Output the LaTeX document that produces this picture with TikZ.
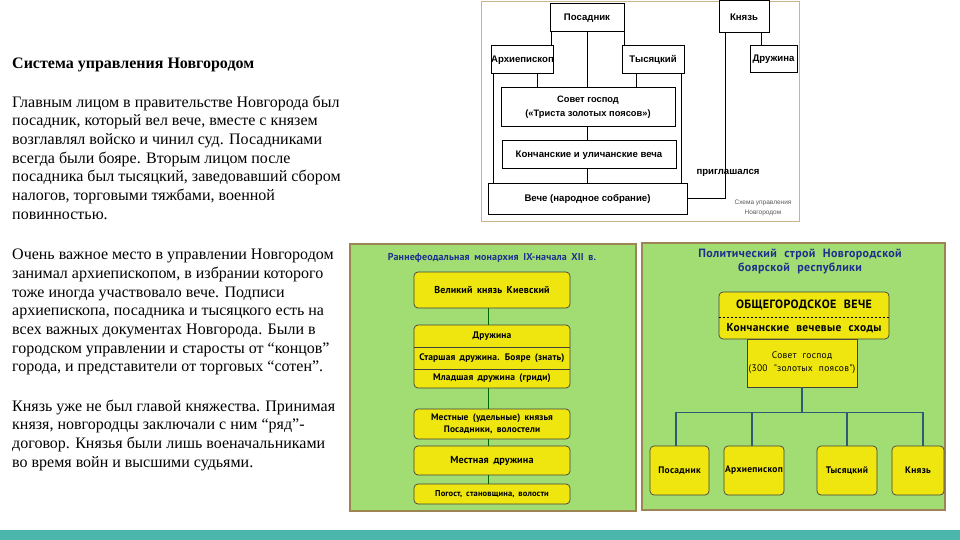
\documentclass[tikz,border=0pt]{standalone}
\usepackage{fontspec}
\setmainfont{Liberation Serif}
\newfontfamily\arialf{Liberation Sans}
\newfontfamily\ptsf[WordSpace=2.2, LetterSpace=3]{PT Sans}
\newfontfamily\ptsl[WordSpace=1.7, LetterSpace=1.5]{PT Sans}
\usetikzlibrary{calc}
\definecolor{panelgreen}{HTML}{A2DD74}
\definecolor{panelborder}{HTML}{9C8552}
\definecolor{boxyellow}{HTML}{EEE60E}
\definecolor{titleblue}{HTML}{1E308C}
\definecolor{treeline}{HTML}{2D5A74}
\definecolor{bandteal}{HTML}{4DB6AC}
\definecolor{frametan}{HTML}{C9B48E}
\tikzset{
  bodytext/.style={anchor=north west, inner sep=0pt, align=left, font=\fontsize{16}{18.7}\selectfont},
  tbox/.style={draw=black, line width=1pt, fill=white, inner sep=0pt, align=center,
               font=\arialf\bfseries\fontsize{9.6}{12}\selectfont},
  tline/.style={draw=black, line width=0.9pt},
  panel/.style={draw=panelborder, line width=1.6pt, fill=panelgreen},
  ybox/.style={draw=black!75, line width=0.7pt, fill=boxyellow, rounded corners=4pt, inner sep=0pt,
               align=center, font=\ptsf\bfseries\fontsize{9.5}{12}\selectfont},
  lbox/.style={ybox, font=\ptsl\bfseries\fontsize{9.5}{12}\selectfont},
  yrow/.style={inner sep=0pt, minimum width=156pt, align=center, font=\ptsl\bfseries\fontsize{9.5}{12}\selectfont},
  lline/.style={draw=black!60!green, line width=0.7pt},
  rline/.style={draw=treeline, line width=1.4pt},
  ptitle/.style={text=titleblue, align=center, inner sep=0pt},
}
\begin{document}
\begin{tikzpicture}[x=1pt,y=-1pt]
\useasboundingbox (0,0) rectangle (960,540);
\fill[white] (0,0) rectangle (960,540);
\fill[bandteal] (0,530) rectangle (960,540);

% ---------- left text ----------
\node[anchor=north west, inner sep=0pt, font=\bfseries\fontsize{16}{19}\selectfont] (title) at (12,58) {Система управления Новгородом};
\node[bodytext] (p1) at (12,95.5) {Главным лицом в правительстве Новгорода был\\
посадник, который вел вече, вместе с князем\\
возглавлял войско и чинил суд. Посадниками\\
всегда были бояре. Вторым лицом после\\
посадника был тысяцкий, заведовавший сбором\\
налогов, торговыми тяжбами, военной\\
повинностью.};
\node[bodytext] (p2) at (12,249) {Очень важное место в управлении Новгородом\\
занимал архиепископом, в избрании которого\\
тоже иногда участвовало вече. Подписи\\
архиепископа, посадника и тысяцкого есть на\\
всех важных документах Новгорода. Были в\\
городском управлении и старосты от “концов”\\
города, и представители от торговых “сотен”.};
\node[bodytext] (p3) at (12,399.5) {Князь уже не был главой княжества. Принимая\\
князя, новгородцы заключали с ним “ряд”-\\
договор. Князья были лишь военачальниками\\
во время войн и высшими судьями.};

% ---------- top diagram ----------
\draw[frametan, line width=1pt, fill=white] (481,2) rectangle (799,221);
\node[tbox, minimum width=74pt, minimum height=28pt] (tpos) at (587,18) {Посадник};
\node[tbox, minimum width=50pt, minimum height=32pt] (tkn) at (744,17) {Князь};
\node[tbox, minimum width=61pt, minimum height=28pt] (tarch) at (522.5,60) {Архиепископ};
\node[tbox, minimum width=62pt, minimum height=28pt] (ttys) at (653,60) {Тысяцкий};
\node[tbox, minimum width=47pt, minimum height=27pt] (tdr) at (773.5,59.5) {Дружина};
\node[tbox, minimum width=174pt, minimum height=39pt, font=\arialf\bfseries\fontsize{9.3}{14}\selectfont] (tsov) at (588,107.5) {Совет господ\\(«Триста золотых поясов»)};
\node[tbox, minimum width=174pt, minimum height=28pt] (tkon) at (589,155) {Кончанские и уличанские веча};
\node[tbox, minimum width=199pt, minimum height=31pt] (tveche) at (587.5,198.5) {Вече (народное собрание)};
\node[inner sep=0pt, font=\arialf\bfseries\fontsize{9.6}{11}\selectfont] (tinv) at (728,173) {приглашался};
\node[inner sep=0pt, align=center, text=black!65, font=\arialf\fontsize{6.5}{10}\selectfont] (tcap) at (763,208) {Схема управления\\Новгородом};

\draw[tline] ([xshift=2pt]tpos.south west) -- ([xshift=2pt]tpos.south west |- tarch.north);
\draw[tline] (tpos.south east) -- (tpos.south east |- ttys.north);
\draw[tline] (tpos.south) -- (tpos.south |- tsov.north);
\draw[tline] (tsov.south -| tpos.south) -- (tkon.north -| tpos.south);
\draw[tline] (tkon.south -| tpos.south) -- (tveche.north -| tpos.south);
\draw[tline] ([xshift=14.5pt]tarch.south) -- ([xshift=14.5pt]tarch.south |- tsov.north);
\draw[tline] ([xshift=-17pt]ttys.south) -- ([xshift=-17pt]ttys.south |- tsov.north);
\draw[tline] ([xshift=3pt]tarch.south west) -- ([xshift=3pt]tarch.south west |- tveche.north);
\draw[tline] ([xshift=-3pt]ttys.south east) -- ([xshift=-3pt]ttys.south east |- tveche.north);
\draw[tline] ([xshift=7pt]tkn.south west) |- (tveche.east);
\draw[tline] ([xshift=17pt]tkn.south) -- ([xshift=17pt]tkn.south |- tdr.north);

% ---------- left green panel ----------
\draw[panel] (350,244) rectangle (636,511);
\node[ptitle, font=\ptsl\bfseries\fontsize{10}{12}\selectfont] (ltitle) at (492,258) {Раннефеодальная монархия IX-начала XII в.};
\node[lbox, minimum width=156pt, minimum height=36pt, font=\ptsl\bfseries\fontsize{10}{12}\selectfont] (lvk) at (492,290) {Великий князь Киевский};
\node[lbox, minimum width=156pt, minimum height=63pt] (ldr) at (492,356.5) {};
\node[yrow, minimum height=22pt] (lr1) at (492,336) {Дружина};
\node[yrow, minimum height=22pt] (lr2) at (492,358) {Старшая дружина. Бояре (знать)};
\node[yrow, minimum height=19pt] (lr3) at (492,378.5) {Младшая дружина (гриди)};
\draw[black!75, line width=0.7pt] (lr1.south west) -- (lr1.south east);
\draw[black!75, line width=0.7pt] (lr2.south west) -- (lr2.south east);
\node[lbox, minimum width=156pt, minimum height=30pt, font=\ptsl\bfseries\fontsize{9.4}{12.5}\selectfont] (lmest) at (492,424) {Местные (удельные) князья\\Посадники, волостели};
\node[lbox, minimum width=156pt, minimum height=29pt, font=\ptsl\bfseries\fontsize{10.2}{12}\selectfont] (lmd) at (492,460.5) {Местная дружина};
\node[lbox, minimum width=156pt, minimum height=20pt, font=\ptsl\bfseries\fontsize{8.5}{10}\selectfont] (lpog) at (492,494) {Погост, становщина, волости};
\draw[lline] ([xshift=-4pt]lvk.south) -- ([xshift=-4pt]ldr.north);
\draw[lline] ([xshift=-4pt]ldr.south) -- ([xshift=-4pt]lmest.north);
\draw[lline] ([xshift=-4pt]lmest.south) -- ([xshift=-4pt]lmd.north);
\draw[lline] ([xshift=-4pt]lmd.south) -- ([xshift=-4pt]lpog.north);

% ---------- right green panel ----------
\draw[panel] (642,243) rectangle (945,510);
\node[ptitle, font=\ptsf\bfseries\fontsize{12}{14}\selectfont] (rtitle) at (800,262) {Политический строй Новгородской\\боярской республики};
\node[draw=black!75, line width=0.7pt, fill=boxyellow, minimum width=110pt, minimum height=48pt, inner sep=0pt,
      align=center, font=\ptsf\fontsize{9.5}{13}\selectfont] (rsov) at (802,363) {Совет господ\\(300 "золотых поясов")};
\node[ybox, minimum width=170pt, minimum height=47pt] (rog) at (804,315.5) {};
\node[inner sep=0pt, minimum width=170pt, minimum height=25pt, font=\ptsf\bfseries\fontsize{12}{13}\selectfont] (rog1) at (804,304.5) {ОБЩЕГОРОДСКОЕ ВЕЧЕ};
\node[inner sep=0pt, minimum width=170pt, minimum height=22pt, font=\ptsf\bfseries\fontsize{11.5}{13}\selectfont] (rog2) at (804,328) {Кончанские вечевые сходы};
\draw[black, line width=0.8pt, dashed, dash pattern=on 2pt off 2pt] (rog1.south west) -- (rog1.south east);

\node[ybox, minimum width=59pt, minimum height=49pt] (rpos) at (679.5,470.5) {Посадник};
\node[ybox, minimum width=60pt, minimum height=49pt] (rarch) at (754,470.5) {Архиепископ};
\node[ybox, minimum width=60pt, minimum height=49pt] (rtys) at (847,470.5) {Тысяцкий};
\node[ybox, minimum width=52pt, minimum height=49pt] (rkn) at (918,470.5) {Князь};
\draw[rline] (rsov.south) -- ++(0,25) coordinate (rhub);
\draw[rline] ([xshift=-3.5pt]rpos.north) -- ([xshift=-3.5pt]rpos.north |- rhub) -- ([xshift=5pt]rkn.north |- rhub) -- ([xshift=5pt]rkn.north);
\draw[rline] ([xshift=-2pt]rarch.north) -- ([xshift=-2pt]rarch.north |- rhub);
\draw[rline] (rtys.north) -- (rtys.north |- rhub);
\end{tikzpicture}
\end{document}
